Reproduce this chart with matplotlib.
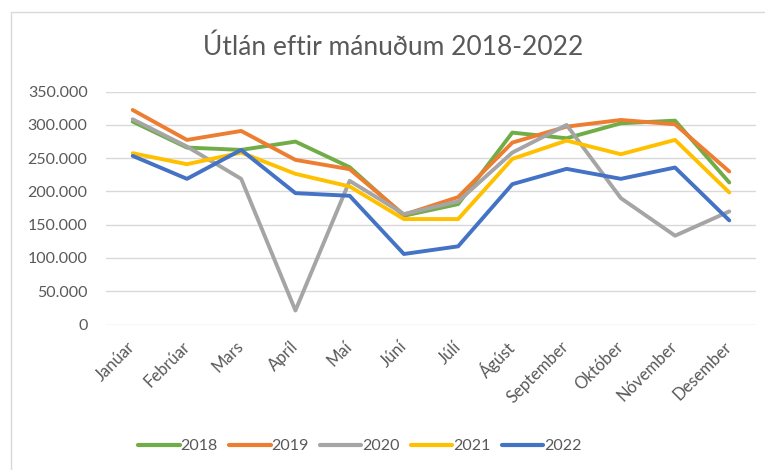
import matplotlib
matplotlib.use("Agg")
import matplotlib.pyplot as plt
from matplotlib.ticker import FuncFormatter, MultipleLocator
from matplotlib.patches import Rectangle

months = ["Janúar", "Febrúar", "Mars", "Apríl", "Maí", "Júní", "Júlí",
          "Ágúst", "September", "Október", "Nóvember", "Desember"]
years = ["2018", "2019", "2020", "2021", "2022"]
v2018 = [305000, 266000, 262500, 275000, 236500, 163500, 181000, 288500, 280000, 302500, 306500, 213500]
v2019 = [322500, 277500, 291000, 247500, 233500, 165000, 191500, 273500, 297500, 307500, 301000, 230000]
v2020 = [308500, 267500, 219000, 21000, 216000, 166000, 185000, 258500, 300000, 190000, 133500, 170000]
v2021 = [257500, 241000, 258500, 226500, 207500, 158500, 158500, 249000, 276500, 256000, 277500, 198500]
v2022 = [253500, 219000, 262500, 197500, 193500, 106000, 117500, 211000, 234000, 219000, 236000, 156500]
series = [v2018, v2019, v2020, v2021, v2022]
colors = ["#70AD47", "#ED7D31", "#A5A5A5", "#FFC000", "#4472C4"]

FONT = ["Lato", "DejaVu Sans"]
TXT = "#595959"
plt.rcParams["font.family"] = FONT

fig = plt.figure(figsize=(7.65, 4.70), dpi=100)
fig.patches.append(Rectangle((11/765, -0.1), 1.2, 1 - 12/470 + 0.1, transform=fig.transFigure,
                             fill=False, edgecolor="#D9D9D9", linewidth=1.0))
ax = fig.add_axes([105.6/765, 1 - 324.5/470, (756.4 - 105.6)/765, (324.5 - 91.7)/470])

x = list(range(len(months)))
for yr, vals, c in zip(years, series, colors):
    ax.plot(x, vals, color=c, linewidth=2.8, label=yr, solid_capstyle="round", solid_joinstyle="round")

ax.set_xlim(-0.5, len(months) - 0.5)
ax.set_ylim(0, 350000)
ax.yaxis.set_major_locator(MultipleLocator(50000))
ax.yaxis.set_major_formatter(FuncFormatter(lambda v, p: f"{int(v):,}".replace(",", ".")))
ax.grid(axis="y", color="#D9D9D9", linewidth=1.0)
ax.set_axisbelow(True)
for s in ax.spines.values():
    s.set_visible(False)
ax.tick_params(axis="both", length=0, colors=TXT, labelsize=11.5)
ax.tick_params(axis="y", pad=13)
ax.set_xticks(x)
ax.set_xticklabels(months, rotation=45, ha="right", va="center", rotation_mode="anchor",
                   fontsize=12)
ax.tick_params(axis="x", pad=14)

fig.text(393/765, 1 - 47/470, "Útlán eftir mánuðum 2018-2022", ha="center", va="center",
         fontsize=19, color=TXT)

leg = fig.legend(loc="center", bbox_to_anchor=(360/765, 1 - 446/470), ncol=5, frameon=False,
                 fontsize=11.5, handlelength=2.6, handletextpad=0.05, columnspacing=0.7)
for t in leg.get_texts():
    t.set_color(TXT)
for h in leg.get_lines():
    h.set_linewidth(3.0)

fig.savefig("out.png", dpi=100)
